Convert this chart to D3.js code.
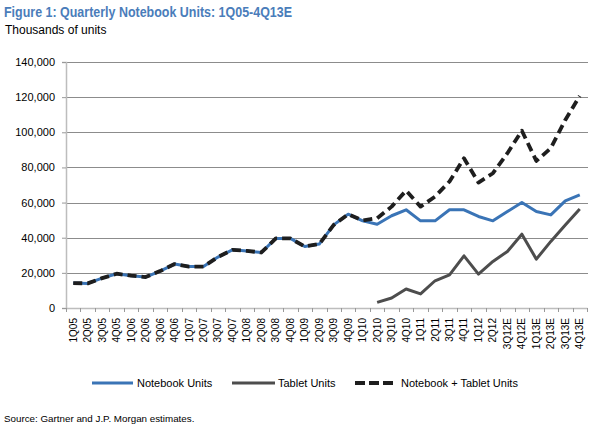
<!DOCTYPE html>
<html><head><meta charset="utf-8">
<script src="https://cdn.jsdelivr.net/npm/d3@7"></script>
<style>body{margin:0;background:#fff}svg{display:block;font-family:"Liberation Sans",Arial,sans-serif}</style>
</head><body>
<svg id="c" width="591" height="429"></svg>
<script>
const categories = ["1Q05","2Q05","3Q05","4Q05","1Q06","2Q06","3Q06","4Q06","1Q07","2Q07","3Q07","4Q07","1Q08","2Q08","3Q08","4Q08","1Q09","2Q09","3Q09","4Q09","1Q10","2Q10","3Q10","4Q10","1Q11","2Q11","3Q11","4Q11","1Q12","2Q12","3Q12E","4Q12E","1Q13E","2Q13E","3Q13E","4Q13E"];
const notebook = [14200,14000,17000,19500,18400,17600,21000,25000,23600,23600,29000,33100,32500,31600,39600,39600,35000,36400,47300,53400,49600,47700,52500,55900,49600,49600,55900,55900,52100,49600,54900,60000,54900,53000,61000,64400];
const tablet = [null,null,null,null,null,null,null,null,null,null,null,null,null,null,null,null,null,null,null,null,null,3200,5700,10800,8000,15500,18900,29700,19300,26500,32200,42000,27800,37900,47300,56300];
const combined = [14200,14000,17000,19500,18400,17600,21000,25000,23600,23600,29000,33100,32500,31600,39600,39600,35000,36400,47300,53400,49800,51100,57700,66800,57700,63400,72000,85200,71400,76700,88100,100900,83700,91000,107000,120700];
const yTicks = [0,20000,40000,60000,80000,100000,120000,140000];
const legendLabels = ["Notebook Units","Tablet Units","Notebook + Tablet Units"];

const svg = d3.select("#c");
const L = 66, R = 587, T = 62, B = 308;
const x = d3.scaleBand().domain(categories).range([L, R]);
const y = d3.scaleLinear().domain([0,140000]).range([B, T]);
const cx = d => x(d) + x.bandwidth()/2;

// title
svg.append("text").attr("x",4).attr("y",17).attr("font-size",15).attr("font-weight","bold")
  .attr("fill","#4A7DBA").attr("textLength",288).attr("lengthAdjust","spacingAndGlyphs")
  .text("Figure 1: Quarterly Notebook Units: 1Q05-4Q13E");
svg.append("text").attr("x",5).attr("y",34).attr("font-size",12).attr("fill","#000").text("Thousands of units");

// gridlines
svg.append("g").selectAll("line").data(yTicks.filter(d=>d>0)).join("line")
  .attr("x1",L).attr("x2",R+1).attr("y1",d=>Math.round(y(d))+0.5).attr("y2",d=>Math.round(y(d))+0.5)
  .attr("stroke","#8c8c8c").attr("stroke-width",1);

// y axis
const ya = svg.append("g").attr("transform",`translate(${L},0)`)
  .call(d3.axisLeft(y).tickValues(yTicks).tickSize(4).tickPadding(7).tickFormat(d3.format(",")));
ya.select(".domain").attr("stroke","#bdbdbd").attr("stroke-width",1.5);
ya.selectAll(".tick line").attr("stroke","#999");
ya.selectAll("text").attr("font-size",11).attr("fill","#000").attr("font-family","Liberation Sans, Arial, sans-serif");

// x axis
const xa = svg.append("g").attr("transform",`translate(0,${B})`)
  .call(d3.axisBottom(x).tickSize(0).tickPadding(0));
xa.select(".domain").attr("stroke","#bdbdbd").attr("stroke-width",1.5);
xa.selectAll(".tick text").attr("font-size",10).attr("fill","#000").attr("font-family","Liberation Sans, Arial, sans-serif")
  .attr("transform","translate(0,10) rotate(-90)").attr("text-anchor","end").attr("dy","0.35em").attr("x",0).attr("y",0);
// category boundary ticks
const bounds = categories.map(c=>x(c)).concat([R]);
svg.append("g").selectAll("line").data(bounds).join("line")
  .attr("x1",d=>Math.round(d)+0.5).attr("x2",d=>Math.round(d)+0.5).attr("y1",B).attr("y2",B+4)
  .attr("stroke","#999");

// lines
const line = d3.line().defined(d=>d.v!=null).x(d=>cx(d.c)).y(d=>y(d.v));
const mk = arr => categories.map((c,i)=>({c, v: arr[i]}));
svg.append("path").datum(mk(notebook)).attr("d",line).attr("fill","none")
  .attr("stroke","#3A74B6").attr("stroke-width",3).attr("stroke-linejoin","round");
svg.append("path").datum(mk(tablet)).attr("d",line).attr("fill","none")
  .attr("stroke","#4D4D4D").attr("stroke-width",3).attr("stroke-linejoin","round");
svg.append("path").datum(mk(combined)).attr("d",line).attr("fill","none")
  .attr("stroke","#1E1E1E").attr("stroke-width",3.8).attr("stroke-dasharray","9,5").attr("stroke-linejoin","round");

// legend
const lg = [
  {x1:92,x2:133,tx:137,stroke:"#3A74B6",dash:null,w:3},
  {x1:232,x2:275,tx:278,stroke:"#4D4D4D",dash:null,w:3},
  {x1:355,x2:393,tx:401,stroke:"#1E1E1E",dash:"10,4",w:3.8}
];
lg.forEach((d,i)=>{
  svg.append("line").attr("x1",d.x1).attr("x2",d.x2).attr("y1",383).attr("y2",383)
    .attr("stroke",d.stroke).attr("stroke-width",d.w).attr("stroke-dasharray",d.dash);
  svg.append("text").attr("x",d.tx).attr("y",387).attr("font-size",11).attr("fill","#000").text(legendLabels[i]);
});

svg.append("text").attr("x",4).attr("y",422).attr("font-size",9.8).attr("fill","#000")
  .text("Source: Gartner and J.P. Morgan estimates.");
</script>
</body></html>
